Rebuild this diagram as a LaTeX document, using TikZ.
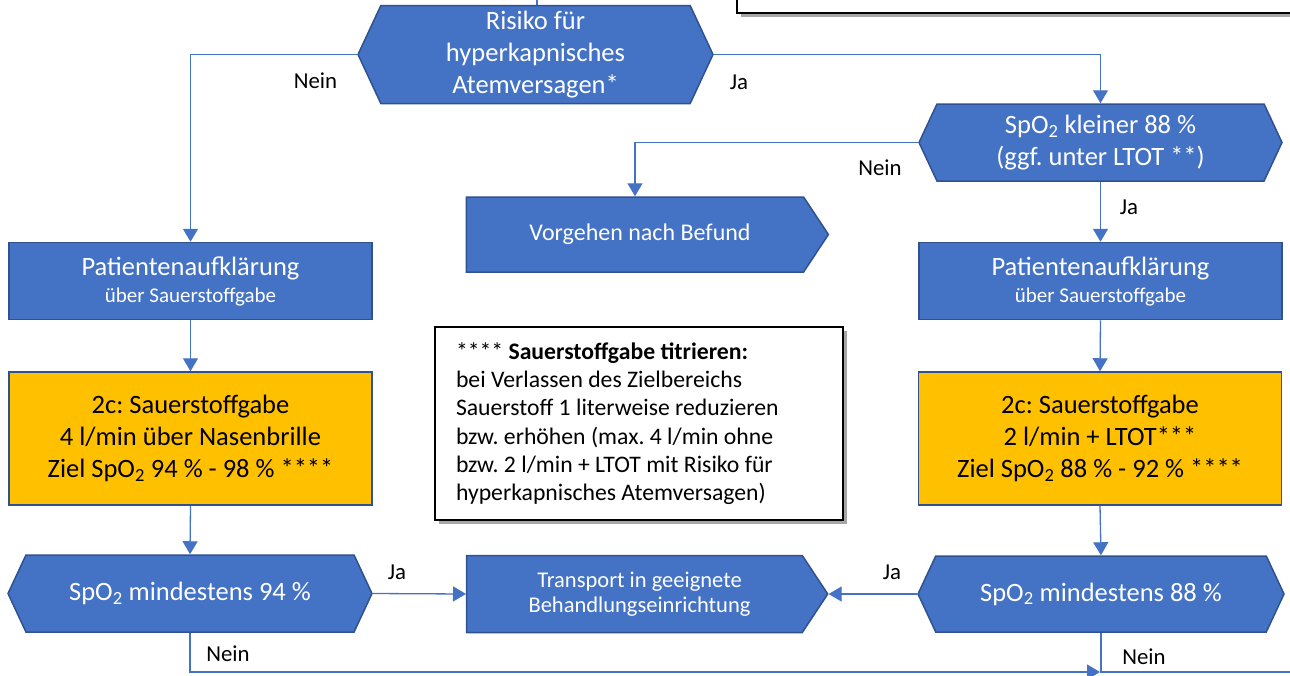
\documentclass[tikz,border=0pt]{standalone}
\usepackage{fontspec}
\setmainfont{Carlito}
\usetikzlibrary{shapes.symbols, arrows.meta, shadows}
\definecolor{boxblue}{HTML}{4472C4}
\definecolor{rimblue}{HTML}{2F528F}
\definecolor{oxyyellow}{HTML}{FFC000}
\definecolor{lineblue}{HTML}{4472C4}
\newcommand{\spo}{SpO\textsubscript{2}}

\begin{document}
\begin{tikzpicture}[
		x=1pt, y=-1pt,
		>={Triangle[width=15pt,length=13pt]},
		conn/.style={draw=lineblue, line width=1.3pt},
		block/.style={rectangle, draw=rimblue, line width=1.5pt, fill=boxblue, text=white, align=center,
			minimum width=363pt, minimum height=77pt, inner sep=2pt, font=\fontsize{26.5}{32}\selectfont\frenchspacing},
		decision/.style={block, signal, signal to=east and west, signal pointer angle=130},
		exit/.style={block, signal, signal to=east, signal pointer angle=113},
		oxygen/.style={block, fill=oxyyellow, text=black, minimum height=133pt},
		memo/.style={rectangle, draw=black, line width=2.5pt, fill=white,
			drop shadow={shadow xshift=4pt, shadow yshift=-4pt, fill=black, opacity=0.35}},
		lab/.style={font=\fontsize{22.8}{27}\selectfont},
		]

	\useasboundingbox (0,0) rectangle (1290,675);

	% legend box, cut by the top edge
	\node (legend) [memo, minimum width=600pt, minimum height=70pt] at (1037,-22) {};

	\node (risk) [decision, minimum width=355pt, minimum height=98pt] at (535.5,54.5)
		{Risiko für\\hyperkapnisches\\Atemversagen*};
	\node (spoklein) [decision] at (1100.5,142.5)
		{\spo{} kleiner 88 \%\\(ggf. unter LTOT **)};
	\node (vorgehen) [exit, minimum width=362pt, minimum height=75pt, font=\fontsize{24}{28}\selectfont] at (635,234.5)
		{\hspace*{10pt}Vorgehen nach Befund};
	\node (patL) [block] at (190.5,281)
		{Patientenaufklärung\\[-5pt]{\fontsize{21}{22}\selectfont über Sauerstoffgabe}};
	\node (patR) [block] at (1100.5,281)
		{Patientenaufklärung\\[-5pt]{\fontsize{21}{22}\selectfont über Sauerstoffgabe}};
	\node (oxyL) [oxygen] at (190.5,438.5)
		{2c: Sauerstoffgabe\\4 l/min über Nasenbrille\\Ziel \spo{} 94 \% - 98 \% ****};
	\node (oxyR) [oxygen] at (1100,438.5)
		{2c: Sauerstoffgabe\\2 l/min + LTOT***\\Ziel \spo{} 88 \% - 92 \% ****};
	\node (memo) [memo, text width=366pt, align=flush left, inner xsep=21pt, minimum height=193pt,
		font=\fontsize{23.7}{28.3}\selectfont\frenchspacing] at (639,423.5)
		{**** \textbf{Sauerstoffgabe titrieren:}\\bei Verlassen des Zielbereichs\\Sauerstoff 1 literweise reduzieren\\bzw. erhöhen (max. 4 l/min ohne\\bzw. 2 l/min + LTOT mit Risiko für\\hyperkapnisches Atemversagen)};
	\node (minL) [decision, minimum width=364pt] at (190,593.5)
		{\spo{} mindestens 94 \%};
	\node (transport) [exit, minimum width=361pt, font=\fontsize{22.5}{25}\selectfont] at (634.5,594)
		{\hspace*{10pt}Transport in geeignete\\\hspace*{10pt}Behandlungseinrichtung};
	\node (minR) [decision, minimum width=366pt, minimum height=76pt] at (1101,594)
		{\spo{} mindestens 88 \%};

	\coordinate (start) at (537,0);
	\coordinate (merge) at (1100,672);
	\coordinate (away) at (1290,672);

	\draw[conn] (start) -- (start |- risk.north);
	\draw[conn,->] (risk.west) -| (patL.north);
	\draw[conn,->] (risk.east) -| (spoklein.north);
	\draw[conn,->] (spoklein.west) -| (vorgehen.north);
	\draw[conn,->] (spoklein.south) -- (patR.north);
	\draw[conn,->] (patL.south) -- (oxyL.north);
	\draw[conn,->] (patR.south) -- (oxyR.north);
	\draw[conn,->] (oxyL.south) -- (minL.north);
	\draw[conn,->] (oxyR.south) -- (minR.north);
	\draw[conn,->] (minL.east) -- (transport.west);
	\draw[conn,->] (minR.west) -- (transport.east);
	\draw[conn,->] (minL.south) |- (merge);
	\draw[conn] (minR.south) |- (away);

	\node (nein1) [lab] at (315.5,81) {Nein};
	\node (ja1) [lab] at (739,82) {Ja};
	\node (nein2) [lab] at (880,168) {Nein};
	\node (ja2) [lab] at (1129,207) {Ja};
	\node (ja3) [lab] at (397,572) {Ja};
	\node (ja4) [lab] at (892,572) {Ja};
	\node (nein3) [lab] at (228,654) {Nein};
	\node (nein4) [lab] at (1144,657) {Nein};
\end{tikzpicture}
\end{document}
